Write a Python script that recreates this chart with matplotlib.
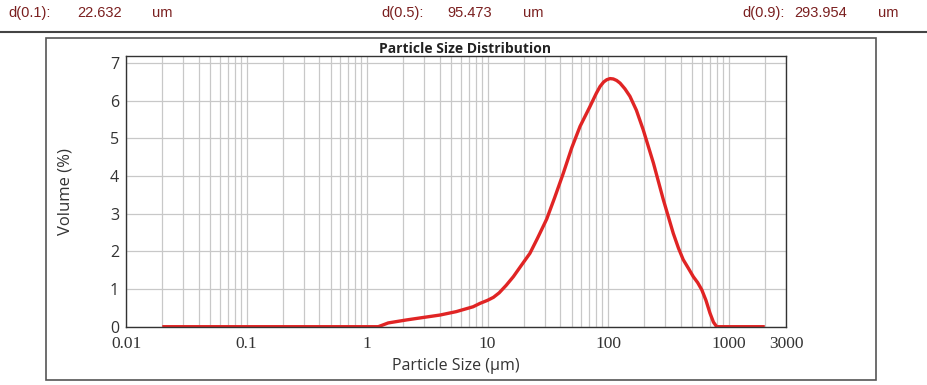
import matplotlib
matplotlib.use("Agg")
import matplotlib.pyplot as plt
from matplotlib.patches import Rectangle
from matplotlib.lines import Line2D
from matplotlib import font_manager as fm

# ---- data ----
sizes = [0.02, 0.05, 0.1, 0.5, 1.0, 1.24, 1.5, 2.13, 3.0, 4.04, 5.5, 7.6, 8.67,
         10.0, 11.2, 12.5, 14.3, 16.4, 19.0, 22.5, 26.0, 31.0, 36.0, 42.6, 50.0,
         58.6, 70.9, 80.0, 85.9, 92.0, 97.6, 104, 110.7, 118, 125.9, 138, 152,
         172, 196, 238, 288, 348, 385, 421, 465, 510, 555, 600, 650, 702, 750,
         798, 1000, 1500, 2000]
volumes = [0, 0, 0, 0, 0, 0, 0.10, 0.18, 0.25, 0.31, 0.40, 0.53, 0.62,
           0.70, 0.78, 0.90, 1.10, 1.33, 1.62, 1.95, 2.35, 2.86, 3.42, 4.08, 4.75,
           5.32, 5.85, 6.20, 6.38, 6.50, 6.56, 6.59, 6.58, 6.54, 6.47, 6.32, 6.12,
           5.75, 5.23, 4.35, 3.37, 2.48, 2.08, 1.78, 1.55, 1.33, 1.17, 0.98, 0.70, 0.36, 0.12,
           0, 0, 0, 0]
xticks = [0.01, 0.1, 1, 10, 100, 1000, 3000]
xtick_labels = ["0.01", "0.1", "1", "10", "100", "1000", "3000"]
yticks = [0, 1, 2, 3, 4, 5, 6, 7]
header_labels = ["d(0.1):", "d(0.5):", "d(0.9):"]
header_values = ["22.632", "95.473", "293.954"]
header_unit = "um"

names = {f.name for f in fm.fontManager.ttflist}
narrow = "Liberation Sans Narrow" if "Liberation Sans Narrow" in names else "Liberation Sans"

W, H = 928, 385
fig = plt.figure(figsize=(W / 100, H / 100), dpi=100)

def fx(px):
    return px / W

def fy(py):
    return 1 - py / H

# header
hcol = "#7a1f1f"
hx = [(8, 77, 152), (381, 447, 523), (742, 794, 878)]
for (a, b, c), lab, val in zip(hx, header_labels, header_values):
    for xx, t in ((a, lab), (b, val), (c, header_unit)):
        fig.text(fx(xx), fy(13), t, color=hcol, fontsize=10.5, family=narrow,
                 va="center", ha="left")

# separator line
fig.add_artist(Line2D([0, 1], [fy(31.5), fy(31.5)], color="#444444", lw=1.5))
# outer box
fig.add_artist(Rectangle((fx(46), fy(380)), fx(876) - fx(46), fy(37.5) - fy(380),
                         fill=False, edgecolor="#555555", lw=1.2))

ax = fig.add_axes([fx(126), fy(326.7), fx(786) - fx(126), fy(56) - fy(326.7)])
ax.set_xscale("log")
ax.set_xlim(0.01, 3000)
ax.set_ylim(0, 7.19)
ax.set_xticks(xticks)
ax.set_xticklabels(xtick_labels, family="Liberation Serif", fontsize=12.5, color="#333333")
ax.set_yticks(yticks)
ax.set_yticklabels([str(v) for v in yticks], family="Open Sans", fontsize=11.5, color="#333333")
ax.tick_params(axis="both", length=0, pad=5)
ax.tick_params(axis="x", pad=7)
ax.grid(True, which="both", axis="x", color="#c8c8c8", lw=0.9)
ax.grid(True, which="major", axis="y", color="#c8c8c8", lw=0.9)
ax.tick_params(axis="x", which="minor", length=0)
ax.set_axisbelow(True)
for s in ax.spines.values():
    s.set_color("#333333")
    s.set_linewidth(1.0)

ax.plot(sizes, volumes, color="#e02424", lw=2.4, solid_capstyle="butt")

ax.set_xlabel("Particle Size (\u00b5m)", family="Open Sans", fontsize=11.5, color="#333333", labelpad=4)
ax.set_ylabel("Volume (%)", family="Open Sans", fontsize=12, color="#333333", labelpad=26)

fig.text(fx(465), fy(49), "Particle Size Distribution", family="Open Sans", fontweight="bold",
         fontsize=10, color="#222222", ha="center", va="center")

fig.savefig("out.png", dpi=100)
